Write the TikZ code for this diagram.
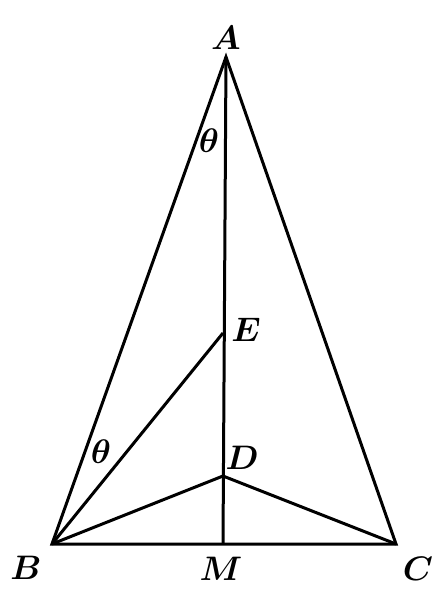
\documentclass[tikz,border=0pt]{standalone}
\usepackage{graphicx}
\newcommand{\ptlabel}[1]{\scalebox{3.4}{\boldmath$#1$}}
\begin{document}
\begin{tikzpicture}[x=1pt,y=-1pt,
  seg/.style={line width=3pt,line join=miter},
  lbl/.style={inner sep=0pt}]
\useasboundingbox (0,0) rectangle (446,608);
\coordinate (A) at (226,57);
\coordinate (B) at (52,544);
\coordinate (C) at (396,544);
\coordinate (M) at (223,544);
\coordinate (E) at (223,333);
\coordinate (D) at (223,476);
\draw[seg] (A) -- (B) -- (C) -- cycle;
\draw[seg] (A) -- (M);
\draw[seg] (B) -- (E);
\draw[seg] (B) -- (D) -- (C);
\node[lbl] (lA) at (226,38) {\ptlabel{A}};
\node[lbl] (lB) at (26,568) {\ptlabel{B}};
\node[lbl] (lM) at (221,569) {\ptlabel{M}};
\node[lbl] (lC) at (418,569) {\ptlabel{C}};
\node[lbl] (lE) at (246,330) {\ptlabel{E}};
\node[lbl] (lD) at (242,458) {\ptlabel{D}};
\node[lbl] (t1) at (209,141) {\ptlabel{\theta}};
\node[lbl] (t2) at (101,452) {\ptlabel{\theta}};
\end{tikzpicture}
\end{document}
